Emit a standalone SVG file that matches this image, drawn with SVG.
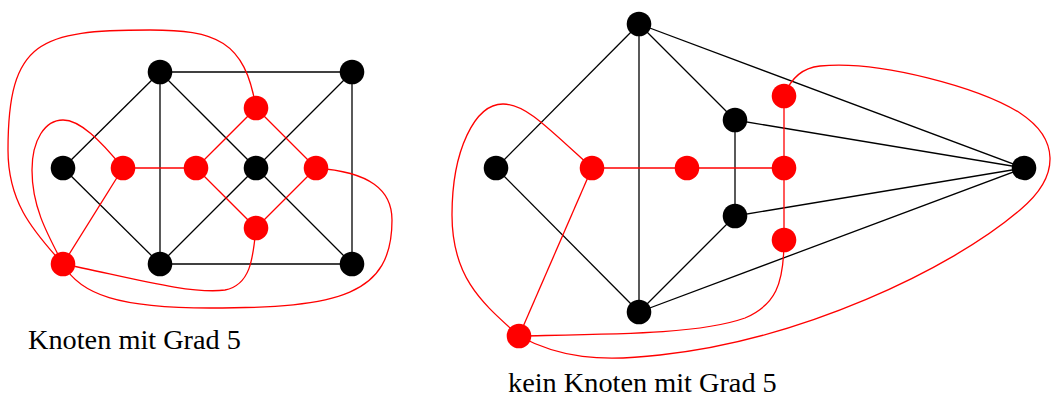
<svg xmlns="http://www.w3.org/2000/svg" width="1051" height="399" viewBox="0 0 1051 399">
<style>
.k{stroke:#000;stroke-width:1.3;fill:none}
.r{stroke:#f00;stroke-width:1.3;fill:none}
.bn{fill:#000}
.rn{fill:#f00}
.t{font-family:"Liberation Serif","Times New Roman",serif;font-size:28.3px;fill:#000}
</style>
<rect width="1051" height="399" fill="#fff"/>
<g id="connectors">
<g id="left-black">
<line class="k" x1="160" y1="72" x2="352" y2="72"/>
<line class="k" x1="352" y1="72" x2="352" y2="264"/>
<line class="k" x1="160" y1="264" x2="352" y2="264"/>
<line class="k" x1="160" y1="72" x2="160" y2="264"/>
<line class="k" x1="160" y1="72" x2="63" y2="168"/>
<line class="k" x1="63" y1="168" x2="160" y2="264"/>
<line class="k" x1="160" y1="72" x2="256" y2="168"/>
<line class="k" x1="352" y1="72" x2="256" y2="168"/>
<line class="k" x1="256" y1="168" x2="160" y2="264"/>
<line class="k" x1="256" y1="168" x2="352" y2="264"/>
</g>
<g id="left-red">
<line class="r" x1="123" y1="168" x2="196" y2="168"/>
<line class="r" x1="196" y1="168" x2="256" y2="108"/>
<line class="r" x1="256" y1="108" x2="316" y2="168"/>
<line class="r" x1="316" y1="168" x2="256" y2="228"/>
<line class="r" x1="256" y1="228" x2="196" y2="168"/>
<line class="r" x1="123" y1="168" x2="63" y2="264"/>
<path class="r" d="M63,264 C30,228 8,200 8,150 C8,40 40,30 150,30 C215,30 245,40 256,108"/>
<path class="r" d="M63,264 C45,230 32,205 32,170 C32,140 45,120 63,120 C80,120 100,140 123,168"/>
<path class="r" d="M63,264 C120,275 190,295 225,290 C250,285 253,260 256,228"/>
<path class="r" d="M63,264 C80,295 120,308 210,308 C340,308 392,295 392,220 C392,190 370,172 316,168"/>
</g>
<g id="right-black">
<line class="k" x1="639" y1="24" x2="496" y2="168"/>
<line class="k" x1="639" y1="24" x2="639" y2="312"/>
<line class="k" x1="639" y1="24" x2="735" y2="120"/>
<line class="k" x1="639" y1="24" x2="1024" y2="168"/>
<line class="k" x1="496" y1="168" x2="639" y2="312"/>
<line class="k" x1="735" y1="120" x2="735" y2="216"/>
<line class="k" x1="735" y1="120" x2="1024" y2="168"/>
<line class="k" x1="735" y1="216" x2="1024" y2="168"/>
<line class="k" x1="735" y1="216" x2="639" y2="312"/>
<line class="k" x1="639" y1="312" x2="1024" y2="168"/>
</g>
<g id="right-red">
<line class="r" x1="592" y1="168" x2="784" y2="168"/>
<line class="r" x1="784" y1="96" x2="784" y2="240"/>
<line class="r" x1="592" y1="168" x2="519" y2="336"/>
<path class="r" d="M519,336 C485,305 452,280 452,215 C452,150 475,104 503,104 C525,104 545,125 592,168"/>
<path class="r" d="M519,336 C620,334 700,334 745,318 C775,305 784,285 784,240"/>
<path class="r" d="M519,336 C560,358 600,362 660,355 C800,340 950,270 1020,210 C1062,175 1058,138 1020,113 C980,88 880,60 820,66 C800,68 790,80 784,96"/>
</g>
</g>
<g id="left-nodes">
<circle id="l-tl" class="bn" cx="160" cy="72" r="12.3"/>
<circle id="l-tr" class="bn" cx="352" cy="72" r="12.3"/>
<circle id="l-l" class="bn" cx="63" cy="168" r="12.3"/>
<circle id="l-c" class="bn" cx="256" cy="168" r="12.3"/>
<circle id="l-bl" class="bn" cx="160" cy="264" r="12.3"/>
<circle id="l-br" class="bn" cx="352" cy="264" r="12.3"/>
<circle id="l-ra" class="rn" cx="123" cy="168" r="12.3"/>
<circle id="l-rb" class="rn" cx="196" cy="168" r="12.3"/>
<circle id="l-rc" class="rn" cx="256" cy="108" r="12.3"/>
<circle id="l-rd" class="rn" cx="316" cy="168" r="12.3"/>
<circle id="l-re" class="rn" cx="256" cy="228" r="12.3"/>
<circle id="l-rf" class="rn" cx="63" cy="264" r="12.3"/>
</g>
<g id="right-nodes">
<circle id="r-t" class="bn" cx="639" cy="24" r="12.3"/>
<circle id="r-l" class="bn" cx="496" cy="168" r="12.3"/>
<circle id="r-b" class="bn" cx="639" cy="312" r="12.3"/>
<circle id="r-um" class="bn" cx="735" cy="120" r="12.3"/>
<circle id="r-lm" class="bn" cx="735" cy="216" r="12.3"/>
<circle id="r-r" class="bn" cx="1024" cy="168" r="12.3"/>
<circle id="r-r1" class="rn" cx="592" cy="168" r="12.3"/>
<circle id="r-r2" class="rn" cx="687" cy="168" r="12.3"/>
<circle id="r-r3" class="rn" cx="784" cy="168" r="12.3"/>
<circle id="r-r4" class="rn" cx="784" cy="96" r="12.3"/>
<circle id="r-r5" class="rn" cx="784" cy="240" r="12.3"/>
<circle id="r-r6" class="rn" cx="519" cy="336" r="12.3"/>
</g>
<g id="labels">
<text class="t" x="28" y="349">Knoten mit Grad 5</text>
<text class="t" x="508" y="392">kein Knoten mit Grad 5</text>
</g>
</svg>
